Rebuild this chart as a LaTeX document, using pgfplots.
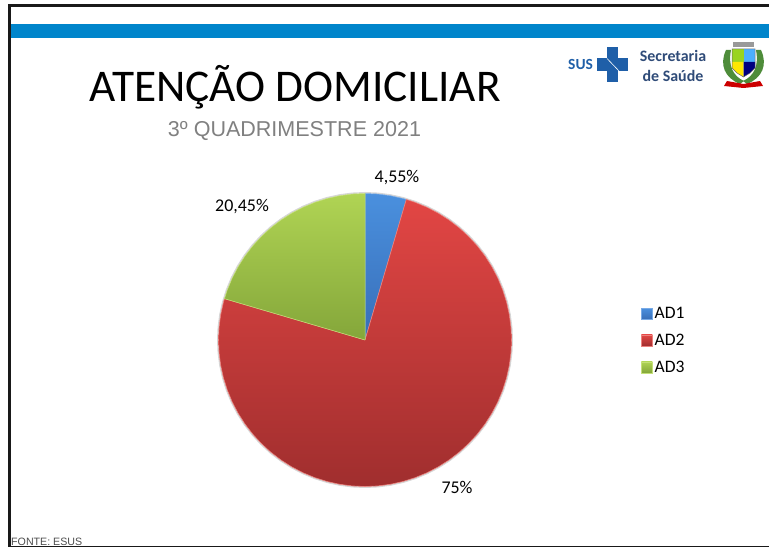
\documentclass[border=0pt]{standalone}
\usepackage{fontspec}
\setmainfont{Carlito}
\newfontfamily\arialf{Liberation Sans}
\usepackage{pgfplots}
\pgfplotsset{compat=1.18}
\definecolor{bandblue}{HTML}{0085CB}
\definecolor{navy}{HTML}{2F4B78}
\definecolor{susblue}{HTML}{1F5FA8}
\definecolor{leaf}{HTML}{4E8C3A}
\begin{document}
\begin{tikzpicture}
\path (0,0) rectangle (769bp,547bp);
\begin{axis}[
  at={(0,0)}, anchor=south west,
  width=769bp, height=547bp, scale only axis,
  xmin=-365, xmax=404, ymin=-207, ymax=340,
  hide axis, clip=true,
  legend style={at={(0.8336,0.3775)}, anchor=west, draw=none, fill=none,
    font=\fontsize{17.6}{19}\selectfont, row sep=10bp, inner sep=0pt, outer sep=0pt,
    /tikz/every even column/.append style={column sep=2.5bp}},
  legend cell align=left,
  legend image code/.code={\path[#1] (0bp,-5.5bp) rectangle (11bp,5.5bp);},
]
% soft shadow of the pie
\addplot[forget plot, draw=black!16, line width=1.4pt, fill=none, data cs=polar] coordinates {
(90,147.3)(85,147.3)(80,147.3)(75,147.3)(70,147.3)(65,147.3)(60,147.3)(55,147.3)(50,147.3)(45,147.3)(40,147.3)(35,147.3)(30,147.3)(25,147.3)(20,147.3)(15,147.3)(10,147.3)(5,147.3)(0,147.3)
(-5,147.3)(-10,147.3)(-15,147.3)(-20,147.3)(-25,147.3)(-30,147.3)(-35,147.3)(-40,147.3)(-45,147.3)(-50,147.3)(-55,147.3)(-60,147.3)(-65,147.3)(-70,147.3)(-75,147.3)(-80,147.3)(-85,147.3)(-90,147.3)
(-95,147.3)(-100,147.3)(-105,147.3)(-110,147.3)(-115,147.3)(-120,147.3)(-125,147.3)(-130,147.3)(-135,147.3)(-140,147.3)(-145,147.3)(-150,147.3)(-155,147.3)(-160,147.3)(-165,147.3)(-170,147.3)(-175,147.3)(-180,147.3)
(-185,147.3)(-190,147.3)(-195,147.3)(-200,147.3)(-205,147.3)(-210,147.3)(-215,147.3)(-220,147.3)(-225,147.3)(-230,147.3)(-235,147.3)(-240,147.3)(-245,147.3)(-250,147.3)(-255,147.3)(-260,147.3)(-265,147.3)(-270,147.3)
};
% AD1 4.55 %
\addplot[data cs=polar, draw={rgb,255:red,120;green,170;blue,230}, line width=0.5pt,
  top color={rgb,255:red,74;green,144;blue,222}, bottom color={rgb,255:red,56;green,110;blue,184}] coordinates {
(0,0)(90,146.5)(85,146.5)(80,146.5)(75,146.5)(73.62,146.5)(0,0)
};
\addlegendentry{AD1}
% AD2 75 %
\addplot[data cs=polar, draw={rgb,255:red,236;green,130;blue,126}, line width=0.6pt,
  top color={rgb,255:red,226;green,70;blue,68}, bottom color={rgb,255:red,160;green,46;blue,46}] coordinates {
(0,0)(73.62,146.5)(70,146.5)(65,146.5)(60,146.5)(55,146.5)(50,146.5)(45,146.5)(40,146.5)(35,146.5)(30,146.5)(25,146.5)(20,146.5)(15,146.5)(10,146.5)(5,146.5)(0,146.5)
(-5,146.5)(-10,146.5)(-15,146.5)(-20,146.5)(-25,146.5)(-30,146.5)(-35,146.5)(-40,146.5)(-45,146.5)(-50,146.5)(-55,146.5)(-60,146.5)(-65,146.5)(-70,146.5)(-75,146.5)(-80,146.5)(-85,146.5)(-90,146.5)
(-95,146.5)(-100,146.5)(-105,146.5)(-110,146.5)(-115,146.5)(-120,146.5)(-125,146.5)(-130,146.5)(-135,146.5)(-140,146.5)(-145,146.5)(-150,146.5)(-155,146.5)(-160,146.5)(-165,146.5)(-170,146.5)(-175,146.5)(-180,146.5)
(-185,146.5)(-190,146.5)(-195,146.5)(-196.38,146.5)(0,0)
};
\addlegendentry{AD2}
% AD3 20.45 %
\addplot[data cs=polar, draw={rgb,255:red,196;green,224;blue,120}, line width=0.5pt,
  top color={rgb,255:red,176;green,212;blue,84}, bottom color={rgb,255:red,132;green,166;blue,58}] coordinates {
(0,0)(163.62,146.5)(160,146.5)(155,146.5)(150,146.5)(145,146.5)(140,146.5)(135,146.5)(130,146.5)(125,146.5)(120,146.5)(115,146.5)(110,146.5)(105,146.5)(100,146.5)(95,146.5)(90,146.5)(0,0)
};
\addlegendentry{AD3}
\node[font=\fontsize{18}{20}\selectfont] at (axis cs:32,162) {4,55\%};
\node[font=\fontsize{18}{20}\selectfont] at (axis cs:-123,133) {20,45\%};
\node[font=\fontsize{18}{20}\selectfont] at (axis cs:92,-147) {75\%};
\end{axis}
\begin{scope}[x=1bp,y=-1bp,yshift=547bp]
% frame
\fill[black!90] (8,4.5) rectangle (769,7);
\fill[black!90] (8,4.5) rectangle (10.5,547);
\fill[black!90] (8,546.2) rectangle (769,547);
% band
\fill[bandblue] (10.5,24) rectangle (769,38);
% title
\node[anchor=base, font=\fontsize{45.5}{48}\selectfont, inner sep=0pt] at (295,102) {ATENÇÃO DOMICILIAR};
\node[anchor=base, font=\arialf\fontsize{21.6}{24}\selectfont, text=black!50, inner sep=0pt] at (294.5,136.7) {3º QUADRIMESTRE 2021};
% footer
\node[anchor=base west, font=\arialf\fontsize{10.7}{12}\selectfont, text=black!70, inner sep=0pt] at (11,545.5) {FONTE: ESUS};
% SUS logo
\node[anchor=base west, font=\bfseries\fontsize{15.5}{17}\selectfont, text=susblue, inner sep=0pt] at (568,70) {SUS};
\fill[susblue] (597,58.5) rectangle (628,71);
\fill[susblue] (607,47) rectangle (617.5,82);
\draw[white, line width=0.6pt] (607,58.5) -- (619,71);
% Secretaria
\node[font=\bfseries\fontsize{16}{18}\selectfont, text=navy, inner sep=0pt] at (673,56) {Secretaria};
\node[font=\bfseries\fontsize{16}{18}\selectfont, text=navy, inner sep=0pt] at (673,76) {de Saúde};
% crest
\fill[leaf] (726,50) .. controls (719,65) and (725,78) .. (740,84) -- (744,81) .. controls (733,76) and (728,66) .. (731,50) -- cycle;
\fill[leaf] (761,50) .. controls (768,65) and (762,78) .. (747,84) -- (743,81) .. controls (754,76) and (759,66) .. (756,50) -- cycle;
\fill[black!40] (733,42) rectangle (754,47);
\fill[white] (732,47) rectangle (755,49);
\fill[yellow!60!green] (732,49) rectangle (743.5,62);
\fill[blue!45!cyan!70] (743.5,49) rectangle (755,62);
\fill[yellow!90!orange] (732,62) -- (743.5,62) -- (743.5,77) -- (737,73) -- (732,68) -- cycle;
\fill[blue!50!black] (743.5,62) -- (755,62) -- (755,68) -- (750,73) -- (743.5,77) -- cycle;
\draw[black!60, line width=0.5pt] (732,49) -- (755,49) -- (755,68) -- (750,73) -- (743.5,77) -- (737,73) -- (732,68) -- cycle;
\fill[red!80!black] (727,81) -- (743.5,84) -- (760,81) -- (763,86) -- (743.5,88) -- (724,86) -- cycle;
\end{scope}
\end{tikzpicture}
\end{document}
